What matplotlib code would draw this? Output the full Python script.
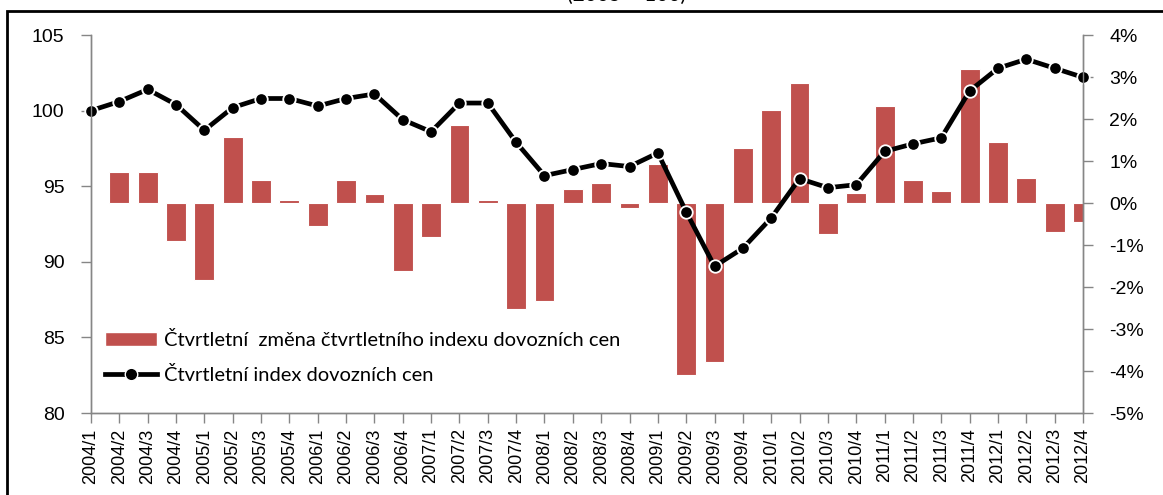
import matplotlib.pyplot as plt
from matplotlib.patches import Rectangle, Patch
from matplotlib.lines import Line2D
from matplotlib.ticker import FuncFormatter

# quarters 2004/1 .. 2012/4
quarters = [f"{y}/{q}" for y in range(2004, 2013) for q in range(1, 5)]

# quarterly import price index (left axis)
index_values = [
    100.0, 100.6, 101.4, 100.4, 98.7, 100.2, 100.8, 100.8, 100.3, 100.8, 101.1, 99.4,
    98.6, 100.5, 100.5, 97.9, 95.7, 96.1, 96.5, 96.3, 97.2, 93.3, 89.7, 90.9,
    92.9, 95.5, 94.9, 95.1, 97.3, 97.8, 98.2, 101.3, 102.8, 103.4, 102.8, 102.2,
]

# quarter-on-quarter change of the index, % (right axis)
change_pct = [
    0.0, 0.73, 0.73, -0.90, -1.83, 1.58, 0.54, 0.06, -0.55, 0.54, 0.21, -1.62,
    -0.80, 1.86, 0.06, -2.53, -2.33, 0.33, 0.48, -0.13, 0.94, -4.10, -3.79, 1.31,
    2.21, 2.86, -0.74, 0.23, 2.31, 0.54, 0.29, 3.19, 1.45, 0.60, -0.68, -0.46,
]

bar_label = "Čtvrtletní  změna čtvrtletního indexu dovozních cen"
line_label = "Čtvrtletní index dovozních cen"

bar_color = "#C0504D"
axis_gray = "#868686"

fig = plt.figure(figsize=(11.63, 4.95), dpi=100)
ax = fig.add_axes([91 / 1163, 1 - 413 / 495, (1083 - 91) / 1163, (413 - 35) / 495])
ax2 = ax.twinx()

x = list(range(len(quarters)))

# bars on the right axis
ax2.bar(x, change_pct, width=0.7, color=bar_color, edgecolor="white", linewidth=0.8)
ax2.set_ylim(-5, 4)
ax2.set_yticks(range(-5, 5))
ax2.yaxis.set_major_formatter(FuncFormatter(lambda v, p: f"{int(v)}%"))

# line on the left axis, drawn above the bars
ax.set_zorder(ax2.get_zorder() + 1)
ax.patch.set_visible(False)
ax.plot(x, index_values, color="black", linewidth=3.4, marker="o", markersize=9,
        markerfacecolor="black", markeredgecolor="white", markeredgewidth=1.3,
        clip_on=False)
ax.set_ylim(80, 105)
ax.set_yticks(range(80, 106, 5))
ax.set_xlim(0, len(quarters) - 1)
ax.set_xticks(x)
ax.set_xticklabels(quarters, rotation=90, fontsize=13, family="Liberation Sans")

for a in (ax, ax2):
    a.spines["top"].set_visible(False)
    for s in ("left", "right", "bottom"):
        a.spines[s].set_color(axis_gray)
        a.spines[s].set_linewidth(1.0)
    a.tick_params(colors=axis_gray, labelcolor="black", length=7, width=1.0)

ax.tick_params(axis="y", labelsize=14, pad=12)
ax2.tick_params(axis="y", labelsize=14, pad=12)
ax2.tick_params(axis="x", bottom=False, labelbottom=False)
ax.tick_params(axis="x", pad=4)
for lbl in ax.get_yticklabels() + ax2.get_yticklabels():
    lbl.set_family("Liberation Sans")

handles = [
    Patch(facecolor=bar_color, edgecolor="white"),
    Line2D([], [], color="black", linewidth=3.4, marker="o", markersize=9,
           markerfacecolor="black", markeredgecolor="white"),
]
ax.legend(handles, [bar_label, line_label], loc="upper left",
          bbox_to_anchor=(0.0, 0.255), frameon=False, numpoints=1,
          prop={"family": "Lato", "size": 14.5}, handlelength=2.6,
          handletextpad=0.3, labelspacing=0.85, borderaxespad=0.3)

# title cut off by the top of the image
fig.text(627 / 1163, 1 - 1 / 495, "(2005 = 100)", ha="center", va="baseline",
         fontsize=15, family="Lato")

# outer frame
fig.patches.append(Rectangle((7 / 1163, -0.1), 1.2, 1.1 - 11 / 495,
                             transform=fig.transFigure, fill=False,
                             edgecolor="black", linewidth=2.0))

fig.savefig("out.png", dpi=100)
